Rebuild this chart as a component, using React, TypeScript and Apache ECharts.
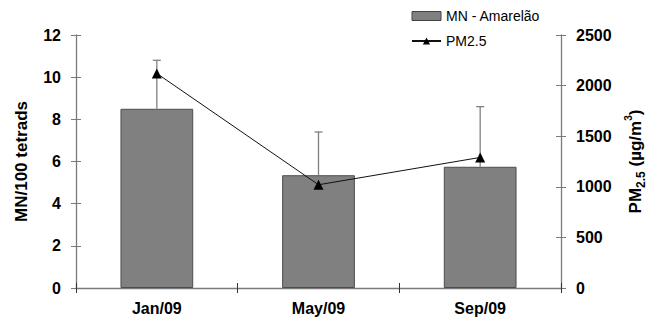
import React, { useEffect, useRef } from "react";
import * as echarts from "echarts";

const categories = ["Jan/09", "May/09", "Sep/09"];
const mnValues = [8.5, 5.35, 5.75];
const mnErrorUpper = [10.8, 7.4, 8.6];
const pmValues = [2120, 1020, 1290];
const leftTicks = { min: 0, max: 12, interval: 2 };
const rightTicks = { min: 0, max: 2500, interval: 500 };

const FONT = "'Liberation Sans', Arial, sans-serif";
const AXIS_GREY = "#7a7a7a";

export default function App() {
  const ref = useRef<HTMLDivElement>(null);
  useEffect(() => {
    if (!ref.current) return;
    const chart = echarts.init(ref.current, undefined, { renderer: "svg" });
    const labelStyle = { color: "#000", fontFamily: FONT, fontWeight: "bold" as const, fontSize: 16 };
    chart.setOption({
      animation: false,
      backgroundColor: "#fff",
      textStyle: { fontFamily: FONT },
      grid: { left: 76, right: 96, top: 35, bottom: 32, containLabel: false },
      legend: {
        orient: "vertical",
        left: 406,
        top: 4,
        itemWidth: 29,
        itemHeight: 9,
        itemGap: 11,
        textStyle: { fontFamily: FONT, fontSize: 14, color: "#000" },
        data: [
          { name: "MN - Amarelão", icon: "rect", itemStyle: { color: "#808080", borderColor: "#444", borderWidth: 1 } },
          { name: "PM2.5" },
        ],
      },
      xAxis: [
        {
          type: "category",
          data: categories,
          axisLine: { lineStyle: { color: AXIS_GREY, width: 1.3 } },
          axisTick: { show: true, alignWithLabel: false, length: 5, lineStyle: { color: "#333" } },
          axisLabel: { ...labelStyle, margin: 12 },
        },
        {
          type: "category",
          data: categories,
          position: "bottom",
          axisLine: { show: false },
          axisTick: { show: true, inside: true, length: 5, lineStyle: { color: "#333" } },
          axisLabel: { show: false },
        },
      ],
      yAxis: [
        {
          type: "value",
          ...leftTicks,
          name: "MN/100 tetrads",
          nameLocation: "middle",
          nameRotate: 90,
          nameGap: 46,
          nameTextStyle: { ...labelStyle, fontSize: 17 },
          axisLine: { show: true, lineStyle: { color: AXIS_GREY, width: 1.3 } },
          axisTick: { show: true, length: 5, lineStyle: { color: AXIS_GREY } },
          axisLabel: { ...labelStyle, margin: 15 },
          splitLine: { show: false },
        },
        {
          type: "value",
          ...rightTicks,
          position: "right",
          name: "{a|PM}{b|2.5}{a| (µg/m}{c|3}{a|)}",
          nameLocation: "middle",
          nameRotate: 90,
          nameGap: 66,
          nameTextStyle: {
            rich: {
              a: { fontFamily: FONT, fontSize: 17, fontWeight: "bold", color: "#000" },
              b: { fontFamily: FONT, fontSize: 12, fontWeight: "bold", color: "#000", verticalAlign: "bottom", padding: [0, 0, -3, 0] },
              c: { fontFamily: FONT, fontSize: 10, fontWeight: "bold", color: "#000", verticalAlign: "top", padding: [-4, 0, 0, 0] },
            },
          },
          axisLine: { show: true, lineStyle: { color: AXIS_GREY, width: 1.3 } },
          axisTick: { show: true, length: 5, lineStyle: { color: AXIS_GREY } },
          axisLabel: { ...labelStyle, margin: 15, formatter: (v: number) => String(v) },
          splitLine: { show: false },
        },
        {
          type: "value",
          ...leftTicks,
          position: "left",
          axisLine: { show: false },
          axisTick: { show: true, inside: true, length: 5, lineStyle: { color: AXIS_GREY } },
          axisLabel: { show: false },
          splitLine: { show: false },
        },
        {
          type: "value",
          ...rightTicks,
          position: "right",
          axisLine: { show: false },
          axisTick: { show: true, inside: true, length: 5, lineStyle: { color: AXIS_GREY } },
          axisLabel: { show: false },
          splitLine: { show: false },
        },
      ],
      series: [
        {
          name: "MN - Amarelão",
          type: "bar",
          data: mnValues,
          barWidth: "45%",
          itemStyle: { color: "#808080", borderColor: "#4d4d4d", borderWidth: 1 },
          z: 2,
        },
        {
          name: "errors",
          type: "custom",
          xAxisIndex: 0,
          yAxisIndex: 0,
          data: mnValues.map((v, i) => [i, v, mnErrorUpper[i]]),
          renderItem: (params: any, api: any) => {
            const x = api.value(0);
            const lo = api.coord([x, api.value(1)]);
            const hi = api.coord([x, api.value(2)]);
            const style = { stroke: "#808080", lineWidth: 1.3 };
            return {
              type: "group",
              children: [
                { type: "line", shape: { x1: lo[0], y1: lo[1], x2: hi[0], y2: hi[1] }, style },
                { type: "line", shape: { x1: hi[0] - 4, y1: hi[1], x2: hi[0] + 4, y2: hi[1] }, style },
              ],
            };
          },
          z: 3,
        },
        {
          name: "PM2.5",
          type: "line",
          yAxisIndex: 1,
          data: pmValues,
          symbol: "triangle",
          symbolSize: 10,
          lineStyle: { color: "#111", width: 1 },
          itemStyle: { color: "#000" },
          z: 4,
        },
      ],
    });
    return () => chart.dispose();
  }, []);
  return <div ref={ref} style={{ position: "absolute", left: 0, top: 0, width: 657, height: 320 }} />;
}
